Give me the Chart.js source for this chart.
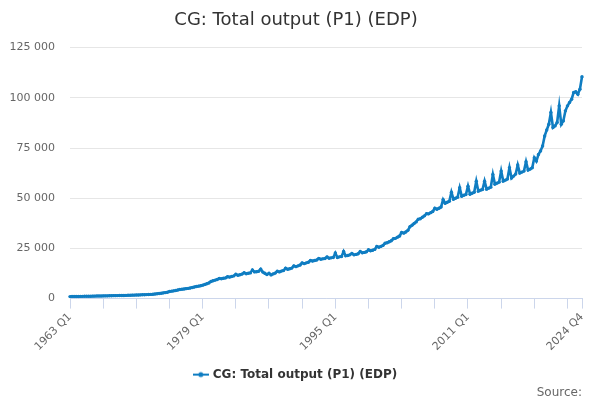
<!DOCTYPE html>
<html>
<head>
<meta charset="utf-8">
<script src="https://cdn.jsdelivr.net/npm/chart.js@4"></script>
<style>
  html, body { margin: 0; padding: 0; background: #fff; }
  #wrap { width: 600px; height: 400px; }
</style>
</head>
<body>
<div id="wrap"><canvas id="grafico"></canvas></div>
<script>
// valores trimestrais, por década
const anoInicial = 1963;
const anoFinal = 2024;
const trimestres = ['Q1', 'Q2', 'Q3', 'Q4'];

const v1960s = [1000,1020,1040,1060, 1080,1100,1120,1140, 1160,1180,1200,1220, 1250,1270,1290,1310,
    1340,1360,1380,1410, 1440,1460,1480,1500, 1530,1550,1570,1600];
const v1970s = [1650,1680,1710,1740, 1780,1820,1860,1900, 1950,2000,2050,2100, 2200,2300,2400,2550,
    2700,2850,3000,3150, 3500,3700,3850,4000, 4300,4500,4650,4800, 4950,5100,5300,5500,
    5800,6000,6200,6400, 6700,7000,7400,7800];
const v1980s = [8500,8900,9200,9500, 10000,9900,10100,10300, 10900,10700,11000,11300, 12100,11600,11900,12200,
    12900,12400,12600,12800, 14300,13300,13400,13600, 14700,13200,12600,12000, 12600,11800,12300,12700,
    13600,13300,13700,14000, 15200,14600,14900,15200];
const v1990s = [16300,15900,16300,16700, 17800,17400,17800,18100, 19000,18700,19000,19200, 20000,19600,19800,20000,
    20800,20100,20300,20500, 22700,20500,20800,21000, 23500,21300,21500,21800, 22500,21800,22000,22300,
    23500,22800,23000,23300, 24300,23800,24100,24500];
const v2000s = [26000,25600,26000,26500, 27600,27800,28300,28800, 29800,30000,30600,31200, 33000,32600,33200,34000,
    35800,36500,37400,38200, 39500,39800,40500,41200, 42300,42200,42800,43400, 45000,44500,45000,45600,
    49300,47500,48000,48500, 53000,49500,50000,50500];
const v2010s = [55200,51000,51500,51800, 56000,52000,52500,53000, 58500,53500,54000,54300, 58500,54500,55000,55500,
    61800,57000,57500,58000, 63500,58500,59000,59500, 65200,60000,61000,62000, 66500,62500,63000,63500,
    68200,64000,64500,65200, 70200,68500,71800,73500];
const v2020s = [76000,81000,84000,86800, 92700,85200,86000,87700, 96000,86800,88500,93500, 96000,97700,99300,102700,
    103000,101800,104300,110500];

const valores = [].concat(v1960s, v1970s, v1980s, v1990s, v2000s, v2010s, v2020s);

const labels = [];
for (let ano = anoInicial; ano <= anoFinal; ano++) {
    for (const t of trimestres) labels.push(ano + ' ' + t);
}

const corLinha = '#0f7dc2';
const fonte = "'DejaVu Sans', sans-serif";

// simbolo da legenda: linha com ponto
const simbolo = document.createElement('canvas');
simbolo.width = 16; simbolo.height = 8;
const sctx = simbolo.getContext('2d');
sctx.strokeStyle = corLinha; sctx.lineWidth = 2;
sctx.beginPath(); sctx.moveTo(0, 4); sctx.lineTo(16, 4); sctx.stroke();
sctx.fillStyle = corLinha;
sctx.beginPath(); sctx.arc(8, 4, 2.5, 0, Math.PI * 2); sctx.fill();

function formatar(v) {
    return String(v).replace(/\B(?=(\d{3})+(?!\d))/g, ' ');
}

new Chart(document.getElementById('grafico'), {
    type: 'line',
    data: {
        labels: labels,
        datasets: [{
            label: 'CG: Total output (P1) (EDP)',
            data: valores,
            borderColor: corLinha,
            backgroundColor: corLinha,
            borderWidth: 2.6,
            pointRadius: 1.7,
            pointBorderWidth: 0,
            pointHoverRadius: 3,
            tension: 0
        }]
    },
    options: {
        responsive: true,
        maintainAspectRatio: false,
        animation: false,
        layout: { padding: { left: 10, right: 18, top: 10, bottom: 0 } },
        plugins: {
            title: {
                display: true,
                text: 'CG: Total output (P1) (EDP)',
                color: '#333333',
                font: { family: fonte, size: 18, weight: 'normal' },
                padding: { top: 0, bottom: 16 }
            },
            subtitle: {
                display: true,
                text: 'Source:',
                position: 'bottom',
                align: 'end',
                color: '#666666',
                font: { family: fonte, size: 12, weight: 'normal' },
                padding: { top: -5, bottom: 0 }
            },
            legend: {
                position: 'bottom',
                labels: {
                    usePointStyle: true,
                    pointStyle: simbolo,
                    color: '#333333',
                    font: { family: fonte, size: 12, weight: 'bold' },
                    padding: 3
                }
            },
            tooltip: { enabled: false }
        },
        scales: {
            x: {
                offset: false,
                border: { color: '#ccd6eb' },
                grid: {
                    drawOnChartArea: false,
                    drawTicks: true,
                    tickLength: 10,
                    color: '#ccd6eb'
                },
                ticks: {
                    autoSkip: false,
                    minRotation: 45,
                    maxRotation: 45,
                    color: '#666666',
                    font: { family: fonte, size: 11 },
                    padding: 2,
                    callback: function (value, index) {
                        if (index % 64 === 0 || index === labels.length - 1) return labels[index];
                        if (index % 16 === 0) return '';
                        return null;
                    }
                },
                afterFit: function (scale) { scale.height = 67; }
            },
            y: {
                min: 0,
                max: 125000,
                border: { display: false },
                grid: { color: '#e6e6e6', drawTicks: false },
                ticks: {
                    stepSize: 25000,
                    color: '#666666',
                    font: { family: fonte, size: 11 },
                    padding: 15,
                    callback: v => formatar(v)
                },
                afterFit: function (scale) { scale.width = 60; }
            }
        }
    }
});
</script>
</body>
</html>
